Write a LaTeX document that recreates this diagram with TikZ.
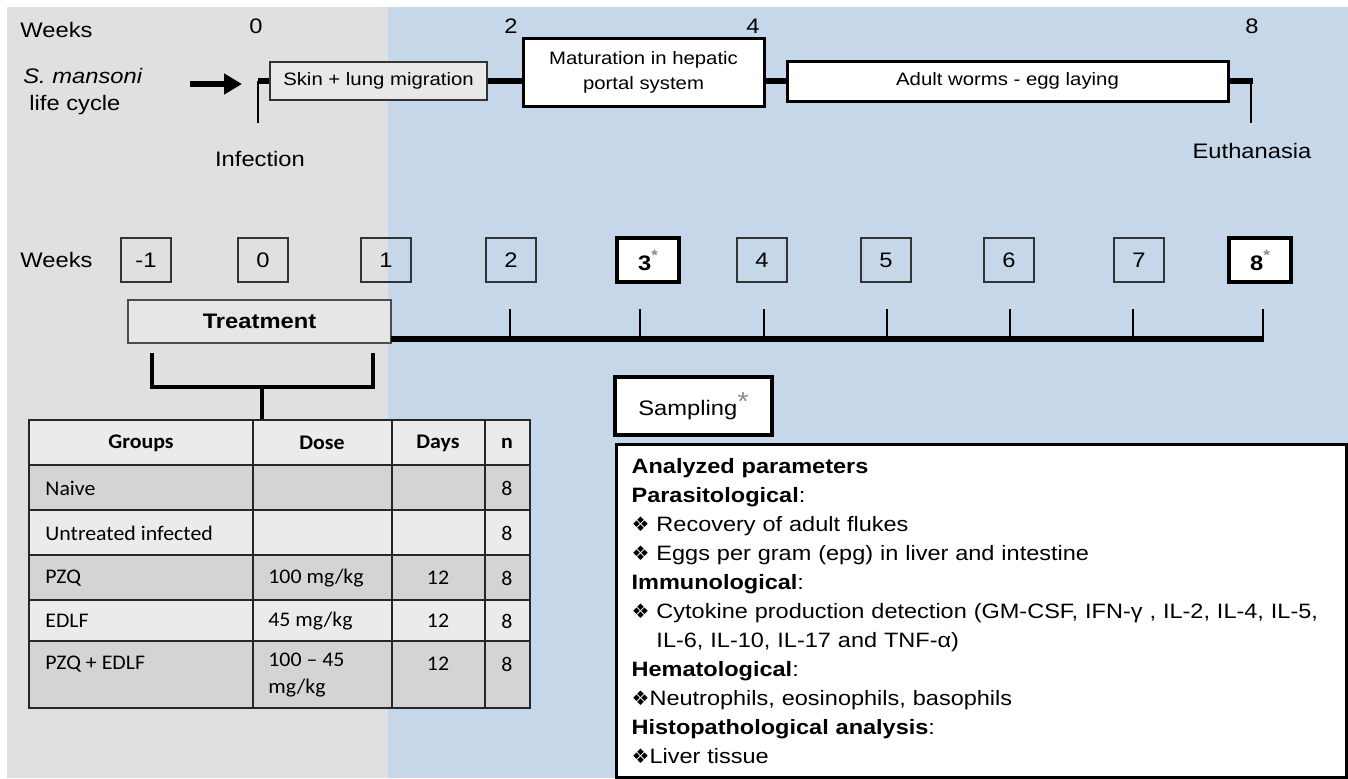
\documentclass[tikz,border=0pt]{standalone}
\usepackage{fontspec}
\setmainfont[FakeStretch=1.13]{Liberation Sans}
\newfontfamily\tabfont[FakeStretch=1.05]{Carlito}
\newfontfamily\symfont{DejaVu Sans}
\usepackage{tikz}
\usetikzlibrary{arrows.meta,positioning}
\definecolor{bggray}{HTML}{E0E0E0}
\definecolor{bgblue}{HTML}{C6D7E9}
\definecolor{boxgray}{HTML}{E8E8E8}
\definecolor{lightrow}{HTML}{EBEBEB}
\definecolor{darkrow}{HTML}{D4D4D4}
\definecolor{astgray}{HTML}{8C8C8C}
\newcommand{\pxu}{0.5pt}
\newcommand{\bul}{{\symfont\fontsize{10}{10}\selectfont ❖}}
\newcommand{\wkast}{{\color{astgray}\raisebox{0.9ex}{\fontsize{7.5}{7.5}\selectfont *}}}

\tikzset{
  lbl/.style={inner sep=0pt, font=\fontsize{10.5}{12}\selectfont},
  phasebox/.style={draw, line width=1.5pt, fill=white, align=center, inner sep=0pt,
    font=\fontsize{9}{12.5}\selectfont},
  wkbox/.style={draw=black!80, line width=0.6pt, minimum width=50*\pxu,
    minimum height=44*\pxu, inner sep=0pt, font=\fontsize{10.5}{12}\selectfont},
  wkbold/.style={wkbox, fill=white, draw=black, line width=1.6pt,
    minimum width=62*\pxu, font=\bfseries\fontsize{10.5}{12}\selectfont},
  thickline/.style={line width=2.6pt},
  thinline/.style={line width=1.3pt},
  tabline/.style={line width=1pt, draw=black!85},
  cell/.style={inner sep=0pt, font=\tabfont\fontsize{10.4}{13.5}\selectfont},
  hcell/.style={cell, font=\tabfont\bfseries\fontsize{10.4}{13.5}\selectfont},
}

\begin{document}
\begin{tikzpicture}[x=0.5pt,y=-0.5pt]
\useasboundingbox (0,0) rectangle (1348,778);
% backgrounds
\fill[white] (0,0) rectangle (1348,778);
\fill[bggray] (7,7) rectangle (388,778);
\fill[bgblue] (388,7) rectangle (1348,778);

% life cycle
\node[lbl, anchor=base west] (weeksA) at (20,37) {Weeks};
\node[lbl, anchor=base] (tA0) at (256,33) {0};
\node[lbl, anchor=base] (tA2) at (511,33) {2};
\node[lbl, anchor=base] (tA4) at (753,33) {4};
\node[lbl, anchor=base] (tA8) at (1252,33) {8};
\node[lbl, anchor=base west] (sman) at (23,83) {\itshape S. mansoni};
\node[lbl, anchor=base west] (cycle) at (29,110) {life cycle};

\coordinate (arrA) at (190,84);
\coordinate (arrB) at (242,84);
\draw[line width=3pt, -{Triangle[length=18*\pxu, width=20*\pxu]}] (arrA) -- (arrB);

\node[phasebox, fill=boxgray, draw=black!80, line width=0.6pt,
  minimum width=217*\pxu, minimum height=38*\pxu] (skin) at (378.5,81)
  {Skin + lung migration};
\node[phasebox, minimum width=241*\pxu, minimum height=68*\pxu] (mature)
  at (643.5,72) {Maturation in hepatic\\portal system};
\node[phasebox, minimum width=441*\pxu, minimum height=40*\pxu] (adult)
  at (1007.5,81) {Adult worms - egg laying};

\coordinate (inf) at (258,81);
\coordinate (infB) at (258,123);
\coordinate (eut) at (1251,81);
\coordinate (eutB) at (1251,123);
\draw[thinline] (infB) -- (inf);
\draw[thickline] (inf) -- (skin.west);
\draw[thickline] (skin.east) -- (skin.east -| mature.west);
\draw[thickline] (mature.east |- adult.west) -- (adult.west);
\draw[thickline] (adult.east) -- ([xshift=1pt]eut);
\draw[thinline] (eut) -- (eutB);
\node[lbl] (infect) at (260,159) {Infection};
\node[lbl] (euth) at (1252,151) {Euthanasia};

% treatment weeks
\node[lbl, anchor=west] (weeksB) at (20,260) {Weeks};
\foreach \w/\x in {-1/146,0/263,1/386,2/511,4/762,5/886,6/1009,7/1139}
  \node[wkbox] (w\w) at (\x,260) {\w};
\node[wkbold] (w3) at (648,260) {3\wkast};
\node[wkbold] (w8) at (1260,260) {8\wkast};

\node[draw=black!70, line width=0.6pt, fill=boxgray!80!bggray,
  minimum width=263*\pxu, minimum height=43*\pxu, inner sep=0pt,
  font=\bfseries\fontsize{10.5}{12}\selectfont] (treat) at (259.5,321.5) {Treatment};

\coordinate (lineA) at (391,339);
\coordinate (lineB) at (1263,339);
\draw[thickline] (lineA) -- ([xshift=0.65pt]lineB);
\draw[thinline] (lineB) -- ++(0,-30);
\foreach \t in {510,640,764,887,1010,1133}
  \draw[thinline] (\t,339) -- (\t,309);

% bracket to table
\coordinate (brL) at (152,353);
\coordinate (brR) at (373,353);
\coordinate (brM) at (262,387);
\coordinate (tabTop) at (262,420);
\draw[line width=2.2pt] (brL) -- (brL |- brM) -- (brR |- brM) -- (brR);
\draw[line width=2.2pt] (brM) -- (tabTop);

% groups table
\foreach \ya/\yb/\fc in {420/465/lightrow,465/510/darkrow,510/555/lightrow,
  555/600/darkrow,600/641/lightrow,641/708/darkrow}
  \fill[\fc] (29,\ya) rectangle (530,\yb);
\foreach \y in {465,510,555,600,641}
  \draw[tabline] (29,\y) -- (530,\y);
\foreach \x in {253,392,485}
  \draw[tabline] (\x,420) -- (\x,708);
\draw[tabline] (29,420) rectangle (530,708);

\node[hcell] (hGroups) at (141,443) {Groups};
\node[hcell] (hDose) at (322,443) {Dose};
\node[hcell] (hDays) at (438,443) {Days};
\node[hcell] (hN) at (507,443) {n};

\node[cell, anchor=west] (g1) at (45,488) {Naive};
\node[cell, anchor=west] (g2) at (45,533) {Untreated infected};
\node[cell, anchor=west] (g3) at (45,578) {PZQ};
\node[cell, anchor=west] (g4) at (45,621) {EDLF};
\node[cell, anchor=west] (g5) at (45,664) {PZQ + EDLF};
\node[cell, anchor=west] (d3) at (268,578) {100 mg/kg};
\node[cell, anchor=west] (d4) at (268,621) {45 mg/kg};
\node[cell, anchor=north west, align=left] (d5) at (268,653) {100 – 45\\mg/kg};
\foreach \i/\y in {3/578,4/621,5/664}
  \node[cell] (t\i) at (438,\y) {12};
\foreach \i/\y in {1/488,2/533,3/578,4/621,5/664}
  \node[cell] (n\i) at (507,\y) {8};

% sampling
\node[draw, line width=1.6pt, fill=white, minimum width=157*\pxu,
  minimum height=58*\pxu, inner sep=0pt, font=\fontsize{10.5}{12}\selectfont]
  (sampling) at (693.5,406) {Sampling{\color{astgray}\raisebox{0.45ex}{\fontsize{13}{13}\selectfont *}}};

\node[draw, line width=1.6pt, fill=white, anchor=north west,
  minimum width=730*\pxu, minimum height=333*\pxu, inner xsep=7pt,
  text width=350pt, align=left, font=\fontsize{10.4}{14.5}\selectfont]
  (params) at (615,443) {%
\textbf{Analyzed parameters}\\
\textbf{Parasitological}:\\
\bul\ Recovery of adult flukes\\
\bul\ Eggs per gram (epg) in liver and intestine\\
\textbf{Immunological}:\\
\bul\ Cytokine production detection (GM-CSF, IFN-γ , IL-2, IL-4, IL-5,\\
\phantom{\bul\ }IL-6, IL-10, IL-17 and TNF-α)\\
\textbf{Hematological}:\\
\bul Neutrophils, eosinophils, basophils\\
\textbf{Histopathological analysis}:\\
\bul Liver tissue};
\end{tikzpicture}
\end{document}
